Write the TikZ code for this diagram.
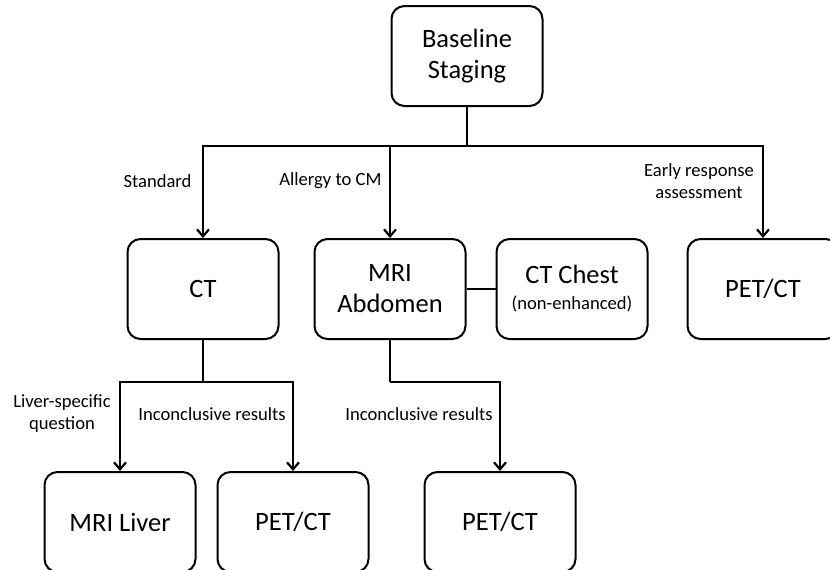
\documentclass[tikz,border=0pt]{standalone}
\usepackage{fontspec}
\setmainfont{Carlito}
\usetikzlibrary{arrows,arrows.meta,%
                shapes,positioning}

\tikzset{box/.style={draw,rounded corners=13pt,line width=2pt,
                     minimum width=151pt,minimum height=100pt,align=center,
                     font=\fontsize{26.5}{31}\selectfont},
         lab/.style={align=center,font=\fontsize{18.6}{22}\selectfont},
         wire/.style={line width=2.5pt},
         arr/.style={wire,-{Straight Barb[length=7pt,width=12pt,line width=2.2pt]}}}

\begin{document}
\begin{tikzpicture}[x=1pt,y=-1pt]
\useasboundingbox (0,0) rectangle (830,570);

\node[box] (base) at (467,56) {Baseline\\Staging};

\node[box] (ct) at (203,289) {CT};
\node[box] (mri) at (390,289) {MRI\\Abdomen};
\node[box] (chest) at (572,289) {CT Chest\\[-5pt]{\fontsize{18.6}{22}\selectfont(non-enhanced)}};
\node[box] (pet1) at (763,289) {PET/CT};

\node[box] (liver) at (120,522) {MRI Liver};
\node[box] (pet2) at (293,522) {PET/CT};
\node[box] (pet3) at (500,522) {PET/CT};

\coordinate (top) at (467,146);
\coordinate (ctout) at (203,382);
\coordinate (mriout) at (390,382);

\draw[wire] (base) -- (top);
\draw[arr] (top) -| (ct);
\draw[arr] (top) -| (mri);
\draw[arr] (top) -| (pet1);
\draw[wire] (mri) -- (chest);

\draw[wire] (ct) -- (ctout);
\draw[arr] (ctout) -| (liver);
\draw[arr] (ctout) -| (pet2);
\draw[wire] (mri) -- (mriout);
\draw[arr] (mriout) -| (pet3);

\node[lab,anchor=east] (std) at (195,181) {Standard};
\node[lab,anchor=east] (allergy) at (385,181) {Allergy to CM};
\node[lab] (early) at (699,181) {Early response\\assessment};
\node[lab] (liverq) at (62,414) {Liver-specific\\question};
\node[lab] (incon1) at (212,414) {Inconclusive results};
\node[lab] (incon2) at (419,414) {Inconclusive results};

\end{tikzpicture}
\end{document}
